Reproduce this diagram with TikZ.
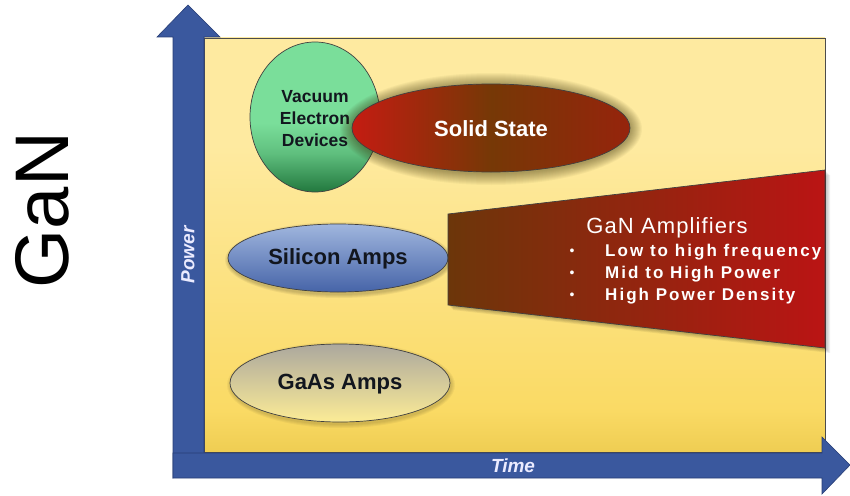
\documentclass[tikz,border=0pt]{standalone}
\usepackage{fontspec}
\setmainfont{Liberation Sans}
\usetikzlibrary{shapes.geometric}
\definecolor{axisblue}{RGB}{58,88,158}
\definecolor{axisedge}{RGB}{40,62,118}
\definecolor{bgtop}{RGB}{254,234,160}
\definecolor{bgmid}{RGB}{250,218,100}
\definecolor{bgbot}{RGB}{196,156,16}
\definecolor{greenlt}{RGB}{122,222,154}
\definecolor{greendk}{RGB}{34,120,62}
\definecolor{ssred}{RGB}{196,28,18}
\definecolor{ssbrown}{RGB}{118,56,6}
\definecolor{ssright}{RGB}{150,36,12}
\definecolor{silt}{RGB}{160,182,222}
\definecolor{sidk}{RGB}{70,100,168}
\definecolor{gagray}{RGB}{172,168,158}
\definecolor{gayel}{RGB}{252,236,150}
\definecolor{ganleft}{RGB}{108,54,10}
\definecolor{ganright}{RGB}{186,20,20}
\definecolor{darktext}{RGB}{18,22,30}
\definecolor{glow}{RGB}{60,50,10}
\pgfdeclareverticalshading{bgshade}{100bp}{color(0bp)=(bgbot); color(12bp)=(bgbot!75!bgmid); color(30bp)=(bgmid); color(62bp)=(bgtop); color(100bp)=(bgtop)}
\pgfdeclareverticalshading{greenshade}{100bp}{color(0bp)=(greendk); color(25bp)=(greendk); color(38bp)=(greenlt!70!greendk); color(48bp)=(greenlt); color(100bp)=(greenlt)}
\tikzset{
  axisarrow/.style={fill=axisblue, draw=axisedge, line width=0.6pt},
  blob/.style={ellipse, draw=black!75, line width=0.7pt, inner sep=0pt, align=center},
  darklabel/.style={text=darktext, font=\bfseries\fontsize{22}{26}\selectfont},
  whitelabel/.style={text=white, font=\bfseries\fontsize{22}{26}\selectfont},
  axislabel/.style={text=white!92!blue, font=\bfseries\itshape\fontsize{19}{22}\selectfont},
  bulletitem/.style={anchor=west, text=white, inner sep=0pt, font=\bfseries\fontsize{17}{20}\selectfont\addfontfeature{LetterSpace=12}},
  bulletdot/.style={text=white, inner sep=0pt, font=\fontsize{14}{16}\selectfont},
}
\begin{document}
\begin{tikzpicture}[x=1pt,y=-1pt]
\useasboundingbox (0,0) rectangle (850,495);
% background panel
\node[draw=black!70, line width=0.6pt, shading=bgshade, minimum width=621pt, minimum height=414pt, inner sep=0pt] (panel) at (514.5,245) {};
% vertical axis arrow
\draw[axisarrow] (173,478) -- (173,37) -- (157,37) -- (188,5) -- (220,37) -- (204,37) -- (204,453) -- cycle;
% horizontal axis arrow
\draw[axisarrow] (173,453) -- (822,453) -- (822,437) -- (850,465) -- (822,494) -- (822,478) -- (173,478) -- cycle;
\node[axislabel] (time) at (513,466) {Time};
\node[axislabel, rotate=90] (power) at (188,255) {Power};
% GaN side label
\node[rotate=90, font=\fontsize{76}{80}\selectfont, text=black] (gan) at (42,210) {GaN};
% vacuum electron devices
\node[blob, shading=greenshade, minimum width=130pt, minimum height=150pt] (ved) at (315,117) {};
\node[text=darktext, align=center, font=\bfseries\fontsize{17.5}{22}\selectfont] (vedtext) at (315,119) {Vacuum\\Electron\\Devices};
% solid state with glow
\foreach \s in {1,...,12}{
  \fill[glow, opacity=0.045] (491,129) ellipse ({139+\s} and {44+\s});
}
\node[blob, left color=ssred, right color=ssright, middle color=ssbrown, minimum width=278pt, minimum height=88pt] (ss) at (491,128) {};
\node[whitelabel] (sstext) at (491,129) {Solid State};
% silicon amps
\foreach \s in {1,...,4}{
  \fill[black, opacity=0.05] (339,260) ellipse ({110+\s} and {34+\s});
}
\node[blob, top color=silt, bottom color=sidk, minimum width=220pt, minimum height=68pt] (si) at (338,258) {};
\node[darklabel] (sitext) at (338,259) {Silicon Amps};
% GaN amplifiers trapezoid
\foreach \s in {1,...,5}{
  \fill[black, opacity=0.06] ({448+\s},{214+\s}) -- ({825+\s},{170+\s}) -- ({825+\s},{348+\s}) -- ({448+\s},{305+\s}) -- cycle;
}
\draw[draw=black!75, line width=0.7pt, left color=ganleft, right color=ganright] (448,214) -- (825,170) -- (825,348) -- (448,305) -- cycle;
\node[text=white, font=\fontsize{22}{26}\selectfont\addfontfeature{LetterSpace=5}] (gantitle) at (667,228) {GaN Amplifiers};
\node[bulletdot] (b1) at (572,252) {\textbullet};
\node[bulletdot] (b2) at (572,274) {\textbullet};
\node[bulletdot] (b3) at (572,296) {\textbullet};
\node[bulletitem] (i1) at (605,252) {Low to high frequency};
\node[bulletitem] (i2) at (605,274) {Mid to High Power};
\node[bulletitem] (i3) at (605,296) {High Power Density};
% GaAs amps
\foreach \s in {1,...,4}{
  \fill[black, opacity=0.04] (341,385) ellipse ({110+\s} and {39+\s});
}
\node[blob, top color=gagray, bottom color=gayel, minimum width=220pt, minimum height=78pt] (gaas) at (340,383) {};
\node[darklabel] (gaastext) at (340,384) {GaAs Amps};
\end{tikzpicture}
\end{document}
